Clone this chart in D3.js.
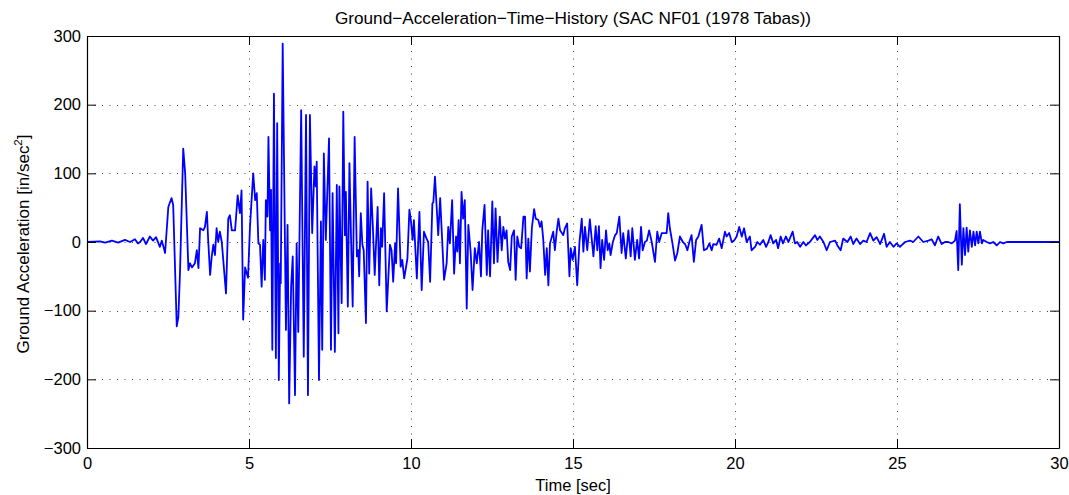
<!DOCTYPE html>
<html>
<head>
<meta charset="utf-8">
<script src="https://cdn.jsdelivr.net/npm/d3@7"></script>
<style>
  html, body { margin: 0; padding: 0; background: #fff; }
  svg { display: block; font-family: "Liberation Sans", Arial, Helvetica, sans-serif; }
</style>
</head>
<body>
<div id="chart"></div>
<script>
// ------------------------------------------
// Ground acceleration record
// ------------------------------------------
const titleText = "Ground\u2212Acceleration\u2212Time\u2212History (SAC NF01 (1978 Tabas))";
const xTicks = [0, 5, 10, 15, 20, 25, 30];
const yTicks = [-300, -200, -100, 0, 100, 200, 300];

// time [sec]
const time = [
  0.00, 0.40, 0.56, 0.77, 0.96, 1.17, 1.33, 1.48, 1.57, 1.64, 1.73, 1.82, 1.94, 2.04, 2.13, 2.25, 2.31, 2.41,
  2.51, 2.61, 2.66, 2.77, 2.82, 2.87, 2.97, 3.03, 3.13, 3.18, 3.24, 3.33, 3.39, 3.44, 3.49, 3.59, 3.64, 3.70,
  3.74, 3.80, 3.85, 3.90, 3.95, 4.00, 4.05, 4.10, 4.16, 4.21, 4.29, 4.36, 4.41, 4.47, 4.57, 4.65, 4.72, 4.77,
  4.82, 4.88, 4.97, 5.03, 5.13, 5.19, 5.24, 5.29, 5.34, 5.39, 5.44, 5.49, 5.52, 5.57, 5.60, 5.65, 5.68, 5.72,
  5.77, 5.83, 5.87, 5.92, 5.96, 5.98, 6.04, 6.14, 6.19, 6.24, 6.30, 6.35, 6.42, 6.47, 6.52, 6.61, 6.69, 6.76,
  6.82, 6.88, 6.95, 7.02, 7.06, 7.09, 7.16, 7.22, 7.26, 7.31, 7.37, 7.47, 7.53, 7.58, 7.65, 7.71, 7.76, 7.79,
  7.86, 7.91, 7.96, 7.99, 8.05, 8.10, 8.15, 8.20, 8.26, 8.33, 8.37, 8.40, 8.45, 8.50, 8.54, 8.61, 8.66, 8.71,
  8.77, 8.82, 8.88, 8.97, 9.02, 9.07, 9.11, 9.17, 9.25, 9.35, 9.40, 9.45, 9.51, 9.54, 9.60, 9.68, 9.73, 9.79,
  9.89, 9.95, 10.00, 10.05, 10.09, 10.18, 10.26, 10.33, 10.40, 10.48, 10.53, 10.59, 10.66, 10.69, 10.74, 10.84,
  10.90, 11.02, 11.10, 11.15, 11.20, 11.27, 11.33, 11.39, 11.43, 11.47, 11.51, 11.56, 11.61, 11.66, 11.72,
  11.77, 11.84, 11.90, 11.97, 12.03, 12.10, 12.16, 12.20, 12.27, 12.34, 12.38, 12.44, 12.51, 12.56, 12.61,
  12.67, 12.74, 12.80, 12.85, 12.90, 12.95, 13.00, 13.06, 13.11, 13.18, 13.23, 13.28, 13.34, 13.40, 13.47,
  13.52, 13.57, 13.62, 13.67, 13.73, 13.80, 13.85, 13.93, 13.98, 14.03, 14.08, 14.14, 14.19, 14.24, 14.29,
  14.39, 14.44, 14.50, 14.55, 14.60, 14.70, 14.75, 14.82, 14.89, 14.93, 14.99, 15.06, 15.13, 15.20, 15.27,
  15.32, 15.37, 15.44, 15.52, 15.63, 15.70, 15.75, 15.80, 15.85, 15.90, 15.96, 16.02, 16.07, 16.12, 16.16,
  16.23, 16.30, 16.35, 16.43, 16.50, 16.55, 16.63, 16.71, 16.78, 16.83, 16.91, 16.98, 17.04, 17.10, 17.15,
  17.22, 17.28, 17.35, 17.43, 17.53, 17.60, 17.66, 17.74, 17.89, 17.94, 17.99, 18.07, 18.15, 18.22, 18.30,
  18.39, 18.46, 18.53, 18.59, 18.66, 18.73, 18.80, 18.87, 18.97, 19.04, 19.13, 19.21, 19.28, 19.33, 19.43,
  19.51, 19.59, 19.69, 19.74, 19.82, 19.90, 19.97, 20.05, 20.13, 20.21, 20.28, 20.36, 20.46, 20.51, 20.62,
  20.69, 20.77, 20.87, 20.96, 21.03, 21.10, 21.18, 21.27, 21.33, 21.41, 21.48, 21.57, 21.65, 21.78, 21.85,
  21.92, 22.01, 22.11, 22.19, 22.31, 22.47, 22.54, 22.62, 22.73, 22.83, 22.93, 23.09, 23.16, 23.26, 23.34,
  23.47, 23.57, 23.65, 23.75, 23.86, 23.96, 24.06, 24.17, 24.27, 24.37, 24.48, 24.60, 24.68, 24.78, 24.89,
  24.99, 25.09, 25.25, 25.40, 25.50, 25.66, 25.81, 25.97, 26.07, 26.17, 26.27, 26.38, 26.48, 26.58, 26.69,
  26.79, 26.84, 26.89, 26.94, 27.00, 27.05, 27.10, 27.15, 27.20, 27.25, 27.31, 27.36, 27.41, 27.46, 27.51,
  27.56, 27.62, 27.66, 27.77, 27.87, 27.97, 28.08, 28.18, 28.28, 28.39, 28.49, 28.59, 30.00
];

// acceleration [in/sec^2]
const accel = [
  0, 1, -1, 2, -1, 3, 0, 4, -2, 0, 6, -3, 8, 2, 7, -7, 2, -16,
  51, 64, 54, -123, -109, -45, 136, 100, -41, -31, -37, -31, -12, -38, 20, 17, 22, 44,
  3, -48, -21, -4, -19, 20, 0, 15, 0, -29, -75, 34, 39, 17, 17, 68, 42, 75,
  -113, -37, -52, 22, 100, 61, 71, -2, -4, -65, 3, -55, 61, 37, 153, 17, 76, -157,
  216, -169, 173, -201, -31, -60, 289, -128, 25, -235, -65, -21, -223, -2, -131, 192, -167, 185,
  -223, 185, 13, 110, 81, 117, -201, 30, -157, 129, 3, 151, -157, 71, -160, 83, -133, 81,
  -89, 190, 10, 73, -94, 115, 5, -94, 153, -21, -12, -50, 42, -4, -12, -118, 88, -46,
  78, 25, -48, 51, -63, 20, -7, 71, -101, -4, -12, -58, -2, -31, 78, -36, -26, -53,
  -24, 47, 30, 3, 32, -53, 44, -70, 15, 5, 0, -58, 56, 58, 95, 10,
  64, -55, -31, 22, -2, 61, -46, 8, -14, 32, -31, 73, 34, 61, -97,
  25, -14, -70, -9, -31, 0, -50, 17, 54, -48, 17, -50, 59, -31, 49,
  -29, 37, -12, 22, 5, 17, -29, -41, 8, 17, -55, 8, -7, -9, 37,
  37, -53, 5, -43, 20, 48, 34, 32, 22, 30, 5, -48, -9, -63, -2,
  15, -12, 17, 34, 17, 10, 20, 27, -50, -9, -26, -7, -63, 0, 34,
  -14, 22, -12, 33, -21, 23, -12, 23, -38, 3, -26, 17, -12, -2, -19,
  0, 10, 13, 37, -16, 13, -24, 17, -21, 20, -26, 3, -24, 22, -12,
  0, 2, 17, 0, -29, 15, 0, 13, 13, 42, 20, -2, -27, -16, 8,
  0, -3, -12, 0, 10, -29, 3, 8, 25, -12, -10, -2, -12, -3, -4,
  5, -9, 15, 8, 13, 0, 2, 8, 22, 8, 20, 0, 8, -12, -7,
  0, -4, 3, -7, 0, 10, -2, 3, -9, 8, -2, 8, 0, 15, -2,
  0, -7, 0, -5, 0, 10, 3, 8, 0, -12, 0, 2, -5, -12, 5,
  0, 8, -3, 5, -3, 2, 0, 13, 2, 7, -3, 12, -7, 0, -7,
  -2, -7, 0, 2, 0, 8, 0, 2, 4, -5, 8, -3, 0, 0, -2,
  2, 16, -41, 55, -33, 20, -19, 21, -14, 17, -7, 15, -5, 15, -2,
  15, -2, 3, 0, -2, 0, -5, 0, -2, 0, 0, 0, 0
];

const drawChart = () => {
    const width = 1069, height = 495;
    const margin = { top: 36, right: 10, bottom: 47, left: 87 };
    const innerW = 1059 - margin.left;
    const innerH = 448 - margin.top;

    const svg = d3.select("#chart").append("svg")
        .attr("width", width)
        .attr("height", height);

    const x = d3.scaleLinear().domain([0, 30]).range([margin.left, margin.left + innerW]);
    const y = d3.scaleLinear().domain([-300, 300]).range([margin.top + innerH, margin.top]);

    const fmt = d3.format("d");

    // --- dotted grid ---
    const grid = svg.append("g")
        .attr("stroke", "#444")
        .attr("stroke-width", 1)
        .attr("stroke-dasharray", "1,6.5");

    grid.selectAll("line.gx")
        .data(xTicks.slice(1, -1))
        .join("line")
        .attr("x1", d => Math.round(x(d)) + 0.5)
        .attr("x2", d => Math.round(x(d)) + 0.5)
        .attr("y1", y(300))
        .attr("y2", y(-300));

    grid.selectAll("line.gy")
        .data(yTicks.slice(1, -1))
        .join("line")
        .attr("x1", x(0))
        .attr("x2", x(30))
        .attr("y1", d => Math.round(y(d)) + 0.5)
        .attr("y2", d => Math.round(y(d)) + 0.5);

    // --- signal ---
    const series = time.map((t, i) => ({ t: t, a: accel[i] }));
    const line = d3.line().x(d => x(d.t)).y(d => y(d.a));

    svg.append("path")
        .datum(series)
        .attr("fill", "none")
        .attr("stroke", "#0000ff")
        .attr("stroke-width", 1.8)
        .attr("stroke-linejoin", "round")
        .attr("d", line);

    // --- axes (ticks pointing inward, box on) ---
    const tick = 9;
    const styleAxis = g => {
        g.select(".domain").attr("stroke", "#000").attr("stroke-width", 1.2);
        g.selectAll(".tick line").attr("stroke", "#000");
        g.selectAll("text")
            .attr("font-size", "16.5px")
            .attr("fill", "#000");
    };

    svg.append("g")
        .attr("transform", `translate(0,${y(-300)})`)
        .call(d3.axisBottom(x).tickValues(xTicks).tickFormat(fmt).tickSize(-tick).tickSizeOuter(0).tickPadding(9))
        .call(styleAxis);

    svg.append("g")
        .attr("transform", `translate(0,${y(300)})`)
        .call(d3.axisTop(x).tickValues(xTicks).tickFormat("").tickSize(-tick).tickSizeOuter(0))
        .call(styleAxis);

    svg.append("g")
        .attr("transform", `translate(${x(0)},0)`)
        .call(d3.axisLeft(y).tickValues(yTicks).tickFormat(fmt).tickSize(-tick).tickSizeOuter(0).tickPadding(6))
        .call(styleAxis);

    svg.append("g")
        .attr("transform", `translate(${x(30)},0)`)
        .call(d3.axisRight(y).tickValues(yTicks).tickFormat("").tickSize(-tick).tickSizeOuter(0))
        .call(styleAxis);

    // --- labels ---
    svg.append("text")
        .attr("x", x(15))
        .attr("y", 24)
        .attr("text-anchor", "middle")
        .attr("font-size", "17.2px")
        .text(titleText);

    svg.append("text")
        .attr("x", x(15))
        .attr("y", 491)
        .attr("text-anchor", "middle")
        .attr("font-size", "16.5px")
        .text("Time [sec]");

    const yl = svg.append("text")
        .attr("transform", `translate(29,${y(0) + 2}) rotate(-90)`)
        .attr("text-anchor", "middle")
        .attr("font-size", "17px");
    yl.append("tspan").text("Ground Acceleration [in/sec");
    yl.append("tspan").attr("font-size", "11.5px").attr("dy", "-7").text("2");
    yl.append("tspan").attr("dy", "7").text("]");
};

document.addEventListener("DOMContentLoaded", drawChart);
</script>
</body>
</html>
